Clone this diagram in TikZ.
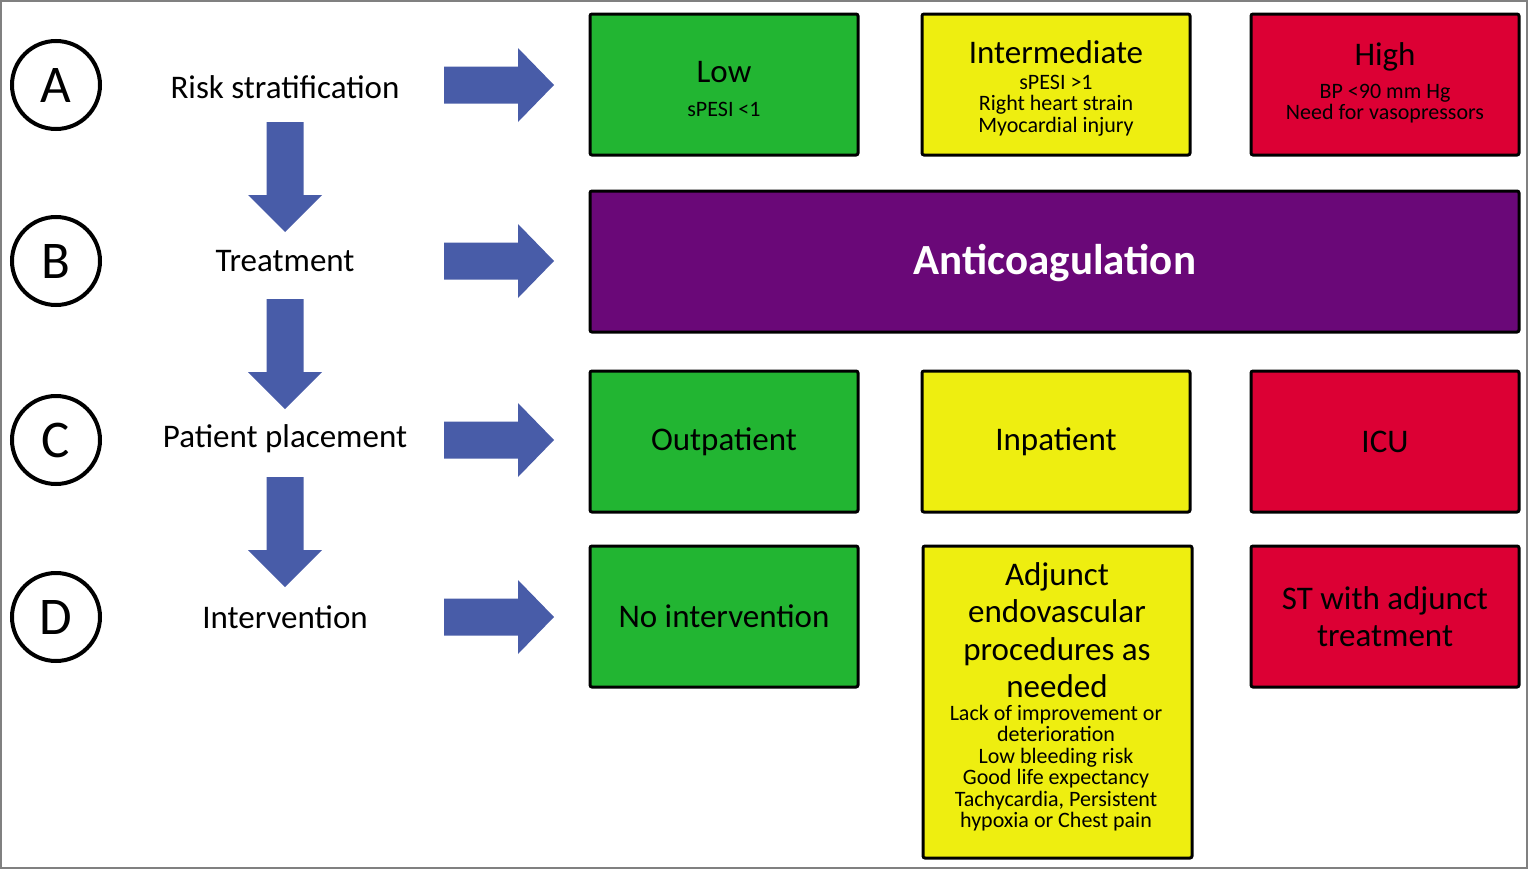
\documentclass[tikz,border=0pt]{standalone}
\usepackage{fontspec}
\setmainfont{Carlito}
\definecolor{gbox}{RGB}{34,181,50}
\definecolor{ybox}{RGB}{238,238,16}
\definecolor{rbox}{RGB}{220,0,52}
\definecolor{pbox}{RGB}{106,8,120}
\definecolor{abl}{RGB}{72,92,168}
\newcommand{\medf}{\fontsize{33}{37.5}\selectfont}
\newcommand{\smf}{\fontsize{22}{21.5}\selectfont}
\begin{document}
\begin{tikzpicture}[x=1pt,y=-1pt,
  box/.style={draw=black, line width=3pt, rounded corners=2pt, minimum width=268pt, minimum height=141pt, inner sep=0pt},
  letter/.style={circle, draw=black, line width=4pt, minimum size=88pt, inner sep=0pt, font=\fontsize{53}{53}\selectfont},
  lab/.style={font=\medf, inner sep=0pt},
  txt/.style={align=center, inner sep=0pt},
  rarrow/.pic={\fill[abl] (0,-18.5) -- (74,-18.5) -- (74,-37) -- (110,0) -- (74,37) -- (74,18.5) -- (0,18.5) -- cycle;},
  darrow/.pic={\fill[abl] (-18.5,0) -- (-18.5,73) -- (-37,73) -- (0,110) -- (37,73) -- (18.5,73) -- (18.5,0) -- cycle;}
]
\useasboundingbox (0,0) rectangle (1529,870);
\draw[gray, line width=1.5pt] (1,1) rectangle (1527,868);

% circles
\node[letter] (cA) at (56,85) {A};
\node[letter] (cB) at (56,261) {B};
\node[letter] (cC) at (56,440) {C};
\node[letter] (cD) at (56,617) {D};

% left labels
\node[lab] (lA) at (285,87) {Risk stratification};
\node[lab] (lB) at (285,261) {Treatment};
\node[lab] (lC) at (285,439) {Patient placement};
\node[lab] (lD) at (285,617) {Intervention};

% down arrows
\pic at (285,122) {darrow};
\pic at (285,299) {darrow};
\pic at (285,477) {darrow};

% right arrows
\pic at (444,85) {rarrow};
\pic at (444,261) {rarrow};
\pic at (444,440) {rarrow};
\pic at (444,617) {rarrow};

% row A
\node[box, fill=gbox] (low) at (724,84.5) {};
\node[txt, font=\medf] (lowt) at (724,72) {Low};
\node[txt, font=\smf] (lows) at (724,109) {sPESI <1};
\node[box, fill=ybox] (int) at (1056,84.5) {};
\node[txt, font=\medf] (intt) at (1056,52) {Intermediate};
\node[txt, font=\smf] (ints) at (1056,105.5) {sPESI >1\\Right heart strain\\Myocardial injury};
\node[box, fill=rbox] (high) at (1385,84.5) {};
\node[txt, font=\medf] (hight) at (1385,57) {High};
\node[txt, font=\smf] (highs) at (1385,103.5) {BP <90 mm Hg\\Need for vasopressors};

% row B
\node[box, fill=pbox, minimum width=929pt] (anti) at (1054.5,261.5) {};
\node[txt, text=white, font=\fontsize{43}{43}\selectfont\bfseries] (antit) at (1055,263) {Anticoagulation};

% row C
\node[box, fill=gbox, font=\medf] (out) at (724,441.5) {Outpatient};
\node[box, fill=ybox, font=\medf] (inp) at (1056,441.5) {Inpatient};
\node[box, fill=rbox, font=\medf] (icu) at (1385,441.5) {ICU};

% row D
\node[box, fill=gbox, font=\medf] (noi) at (724,616.5) {No intervention};
\node[box, fill=ybox, minimum width=269pt, minimum height=312pt] (adj) at (1057.5,702) {};
\node[txt, font=\medf] (adjt) at (1057,630) {Adjunct\\endovascular\\procedures as\\needed};
\node[txt, font=\smf] (adjs) at (1056,768) {Lack of improvement or\\deterioration\\Low bleeding risk\\Good life expectancy\\Tachycardia, Persistent\\hypoxia or Chest pain};
\node[box, fill=rbox, font=\medf, align=center] (st) at (1385,616.5) {ST with adjunct\\treatment};
\end{tikzpicture}
\end{document}
